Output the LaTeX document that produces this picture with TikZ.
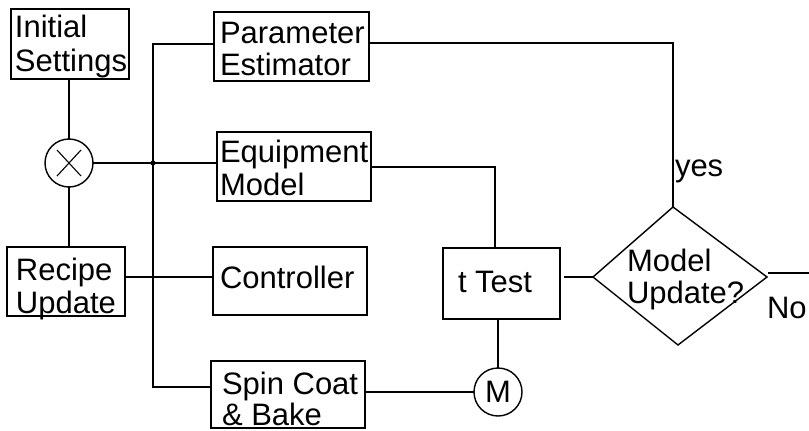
\documentclass[tikz,border=0pt]{standalone}
\usepackage{fontspec}
\setmainfont{Liberation Sans}
\usetikzlibrary{fit}
\begin{document}
\begin{tikzpicture}[x=1pt,y=-1pt,line width=1.4pt,
  box/.style={draw,inner sep=0pt,outer sep=0pt},
  txt/.style={anchor=base west,inner sep=0pt,outer sep=0pt,font=\fontsize{31}{33}\selectfont},
  ring/.style={draw,circle,minimum size=48pt,inner sep=0pt,outer sep=0pt,font=\fontsize{31}{33}\selectfont}]
\useasboundingbox (0,0) rectangle (809,431);
% texts
\node[txt] (is1) at (15,37) {Initial};
\node[txt] (is2) at (15,71) {Settings};
\node[txt] (pe1) at (220,43) {Parameter};
\node[txt] (pe2) at (220,75) {Estimator};
\node[txt] (em1) at (220,162) {Equipment};
\node[txt] (em2) at (220,195) {Model};
\node[txt] (ru1) at (16,280) {Recipe};
\node[txt] (ru2) at (16,313) {Update};
\node[txt] (ct1) at (220,288) {Controller};
\node[txt] (sc1) at (222,394) {Spin Coat};
\node[txt] (sc2) at (222,425) {\&~Bake};
\node[txt] (tt1) at (458,292) {t Test};
\node[txt] (mu1) at (627,271) {Model};
\node[txt] (mu2) at (627,303) {Update?};
\node[txt] (yes) at (675,176) {yes};
\node[txt] (no) at (767,318) {No};
% boxes
\node[box,fit={(11,9)(129,79)}] (is) {};
\node[box,fit={(214,12)(369,81)}] (pe) {};
\node[box,fit={(217,132)(371,201)}] (em) {};
\node[box,fit={(7,247)(125,316)}] (ru) {};
\node[box,fit={(213,247)(367,315)}] (ct) {};
\node[box,fit={(211,361)(365,428)}] (sc) {};
\node[box,fit={(443,248)(560,319)}] (tt) {};
% circles
\node[ring] (cx) at (69,163) {};
\draw[line width=1.1pt] (cx.center) ++(-12,-13) -- ++(24,26);
\draw[line width=1.1pt] (cx.center) ++(12,-13) -- ++(-24,26);
\node[ring] (cm) at (498,392) {M};
% diamond
\coordinate (dt) at (673,207);
\coordinate (dr) at (767,277);
\coordinate (db) at (678,345);
\coordinate (dl) at (593,277);
\draw (dt) -- (dr) -- (db) -- (dl) -- cycle;
% connectors
\draw (cx.north) -- (cx.north |- is.south);
\draw (cx.south) -- (cx.south |- ru.north);
\coordinate (j) at (153,163);
\draw (cx.east) -- (cx.east -| em.west);
\fill (j) circle (2.6);
\coordinate (bt) at (153,44);
\coordinate (bb) at (153,387);
\draw (bt -| pe.west) -- (bt) -- (bb) -- (bb -| sc.west);
\coordinate (rc) at (153,277);
\draw (rc -| ru.east) -- (rc -| ct.west);
\coordinate (yc) at (673,43);
\draw (yc -| pe.east) -- (yc) -- (dt);
\coordinate (ec) at (495,167);
\draw (ec -| em.east) -- (ec) -- (ec |- tt.north);
\draw (cm.north |- tt.south) -- (cm.north);
\draw (cm.west -| sc.east) -- (cm.west);
\draw[shorten <=4pt] (tt.east |- dl) -- (dl);
\coordinate (ne) at (809,273);
\draw ([shift={(1,-4)}]dr) -- (ne);
\end{tikzpicture}
\end{document}
